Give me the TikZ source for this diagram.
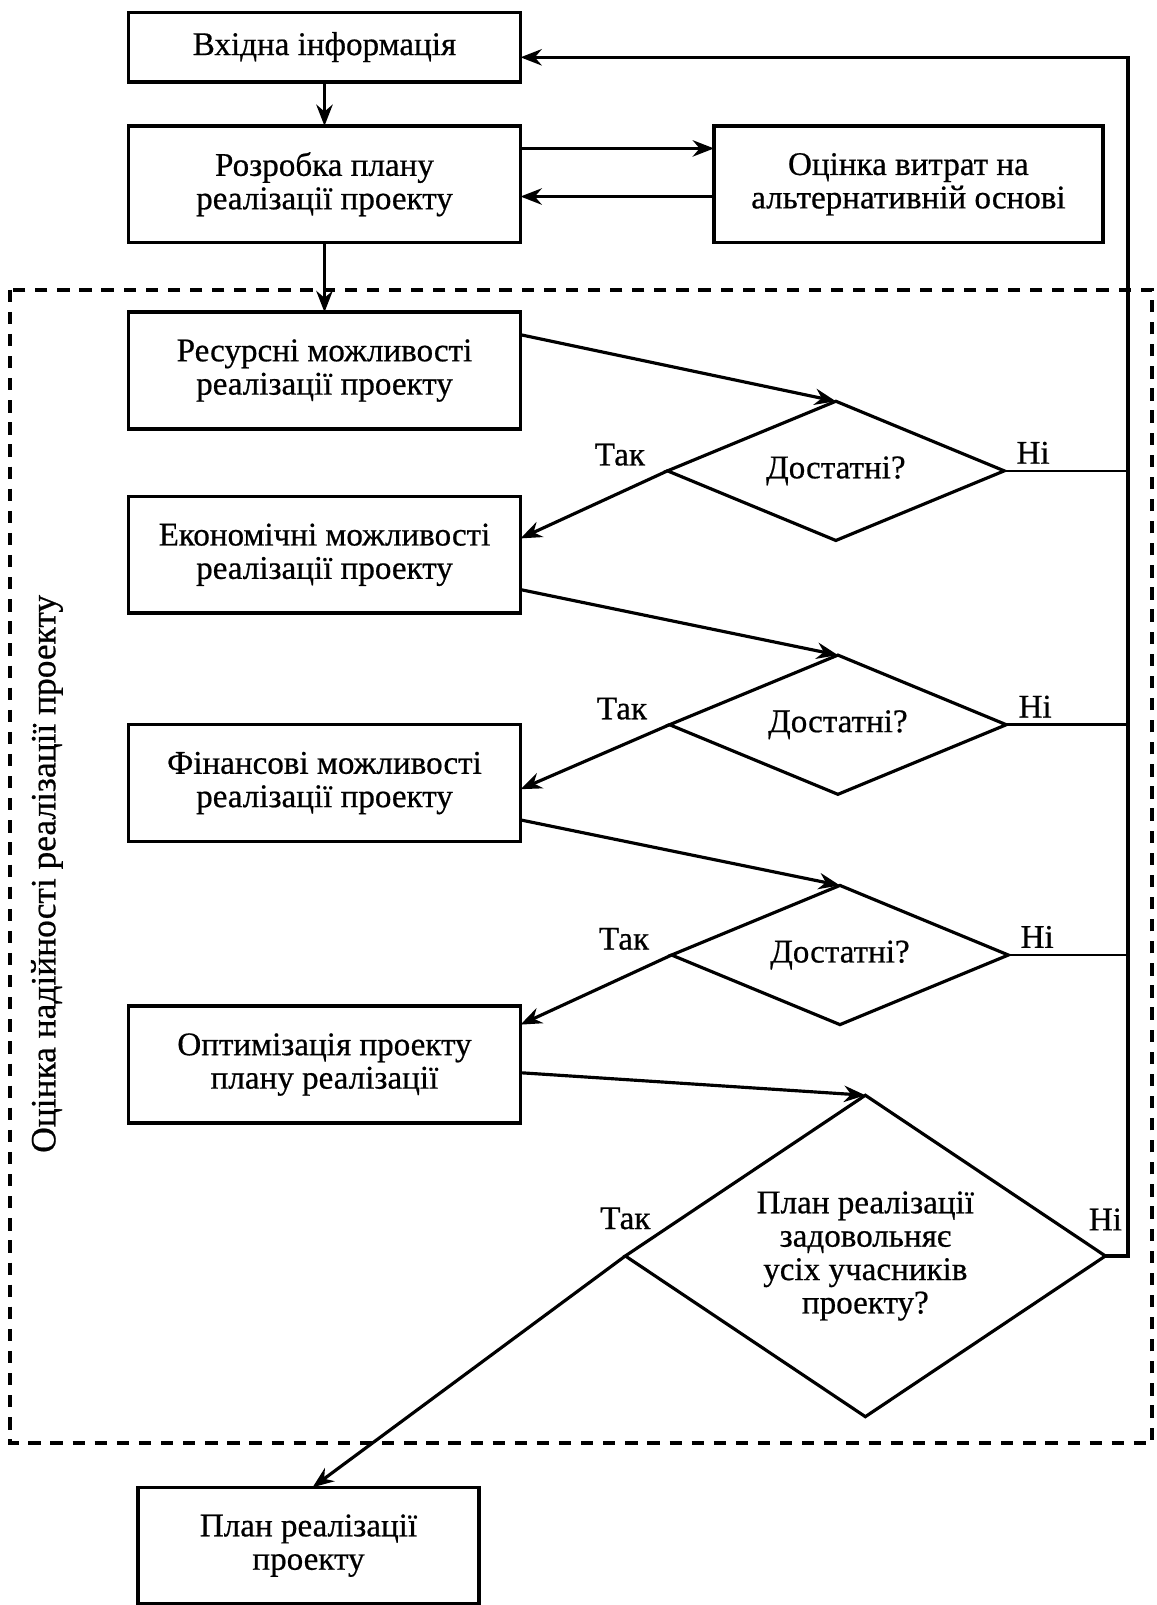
\documentclass[tikz,border=0pt]{standalone}
\usepackage{fontspec}
\setmainfont{Liberation Serif}[FakeBold=0.6]
\usepackage{tikz}
\usetikzlibrary{arrows.meta, shapes.geometric, positioning, calc}
\newcommand{\fcfont}{\fontsize{23}{23.2}\selectfont}
\tikzset{
  >={Stealth[length=5.2mm, width=4mm, inset=1.7mm]},
  stepbox/.style = {draw, rectangle, line width=2.4pt, outer sep=0pt,
                    minimum width=95.75mm, minimum height=28.5mm,
                    inner sep=2pt, font=\fcfont, align=center},
  check/.style   = {draw, diamond, line width=2.2pt, outer sep=0pt,
                    aspect=2.42, minimum width=82.25mm, minimum height=34mm,
                    inner sep=0pt, font=\fcfont, align=center},
  lbl/.style     = {font=\fcfont, inner sep=0pt, outer sep=0pt},
  arrow/.style   = {->, line width=2.2pt},
  noarrow/.style = {line width=1.7pt},
  frame/.style   = {line width=2.8pt, dash pattern=on 3mm off 2.4mm},
}

\begin{document}
\begin{tikzpicture}[node distance = 10mm]
  \useasboundingbox (0,0) rectangle (282.5mm,-392mm);

  % Top: input and plan development
  \node[stepbox, minimum height=17mm] (inp) at (79.25mm,-11.5mm) {Вхідна інформація};
  \node[stepbox, below=10.75mm of inp]                   (dev)  {Розробка плану\\реалізації проекту};
  \node[stepbox, right=47.25mm of dev, minimum width=95mm] (cost) {Оцінка витрат на\\альтернативній основі};

  % Left column: possibilities of the project
  \node[stepbox, below=17mm of dev]     (res) {Ресурсні можливості\\реалізації проекту};
  \node[stepbox, below=16.5mm of res]   (eco) {Економічні можливості\\реалізації проекту};
  \node[stepbox, below=27.25mm of eco]  (fin) {Фінансові можливості\\реалізації проекту};
  \node[stepbox, below=40.25mm of fin]  (opt) {Оптимізація проекту\\плану реалізації};
  \node[stepbox, below=89mm of opt, xshift=-3.9mm,
        minimum width=83.25mm]          (plan) {План реалізації\\проекту};

  % Right column: checks
  \node[check, right=35.9mm of res, yshift=-24.5mm] (d1) {Достатні?};
  \node[check, right=36.4mm of eco, yshift=-41.5mm] (d2) {Достатні?};
  \node[check, right=36.9mm of fin, yshift=-42mm]   (d3) {Достатні?};
  \node[check, right=25.6mm of opt, yshift=-46.75mm, aspect=1.49,
        minimum width=117.25mm, minimum height=78.5mm] (d4)
        {План реалізації\\задовольняє\\усіх учасників\\проекту?};

  % Edges
  \foreach \a/\b in {inp/dev, dev/res}
    \draw[arrow] (\a) -- (\b);
  \draw[arrow] ([yshift=8.75mm]dev.east) -- ([yshift=8.75mm]cost.west);
  \draw[arrow] ([yshift=-3mm]cost.west)  -- ([yshift=-3mm]dev.east);
  \draw[arrow] ([yshift=8.75mm]res.east) -- (d1.north);
  \draw[arrow] ([yshift=-8.5mm]eco.east) -- (d2.north);
  \draw[arrow] ([yshift=-9mm]fin.east)   -- (d3.north);
  \draw[arrow] ([yshift=-2mm]opt.east)   -- (d4.north);
  \draw[arrow] (d1.west) -- ([yshift=4mm]eco.east);
  \draw[arrow] (d2.west) -- ([yshift=-1.5mm]fin.east);
  \draw[arrow] (d3.west) -- ([yshift=9.75mm]opt.east);
  \draw[arrow] (d4.west) -- ([xshift=1mm]plan.north);

  % Feedback on "no"
  \coordinate (fb) at ([xshift=5.5mm]d4.east);
  \foreach \q in {d1, d2, d3}
    \draw[noarrow] (\q.east) -- (\q.east -| fb);
  \draw[arrow] (d4.east) -- (fb) |- ([yshift=-2.5mm]inp.east);

  % Answers
  \foreach \q in {d1, d2, d3} {
    \node[lbl, above left=1.25mm and 5.5mm of \q.west]  (\q-yes) {Так};
    \node[lbl, above right=1.75mm and 3mm of \q.east]   (\q-no)  {Ні};
  }
  \node[lbl, above=6.5mm of d4.west]  (d4-yes) {Так};
  \node[lbl, above=6.25mm of d4.east] (d4-no)  {Ні};

  % Reliability frame
  \coordinate (ftl) at ($(res.north west)+(-28.9mm,5.5mm)$);
  \coordinate (fbr) at ($(fb |- d4.south)+(6mm,-6.5mm)$);
  \draw[frame] (ftl) rectangle (fbr);
  \node[lbl, rotate=90, font=\fontsize{24.6}{25}\selectfont] (side)
       at ($(ftl)!0.5!(ftl |- fbr)+(9mm,-1.8mm)$)
       {Оцінка надійності реалізації проекту};
\end{tikzpicture}
\end{document}
